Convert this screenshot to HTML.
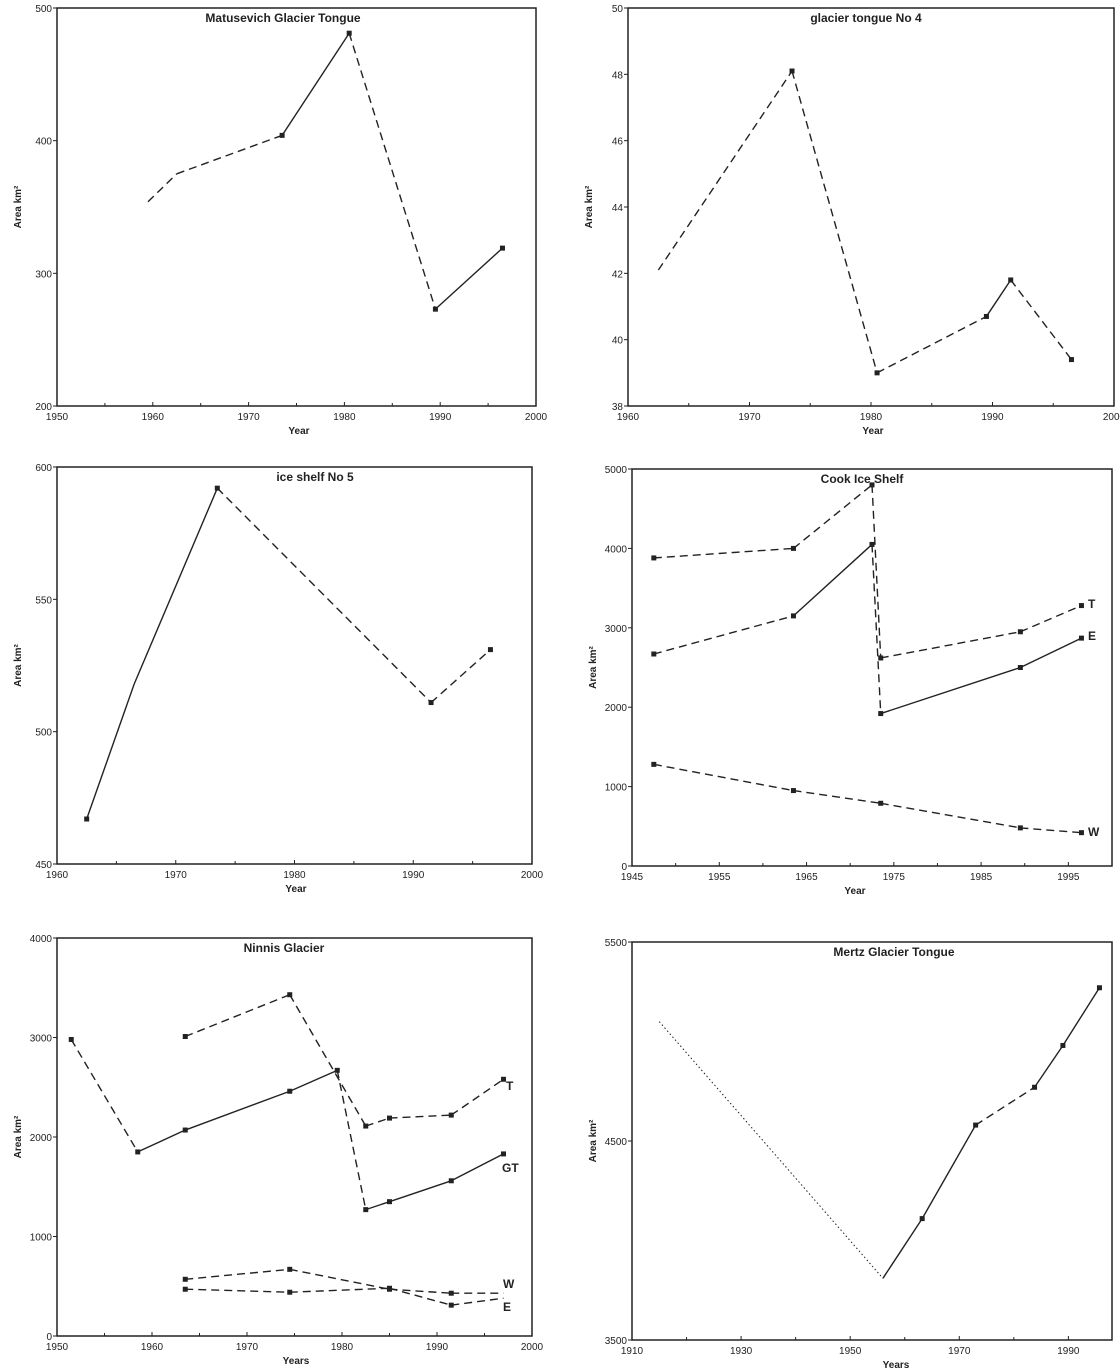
<!DOCTYPE html>
<html><head><meta charset="utf-8"><style>
html,body{margin:0;padding:0;background:#fff;}
svg{display:block;}
text{font-family:"Liberation Sans",sans-serif;fill:#222;}
</style></head><body>
<svg id="fig" width="1120" height="1370" viewBox="0 0 1120 1370" xmlns="http://www.w3.org/2000/svg"></svg>
<script>
// ---- Data arrays ----
const p1Years=[1959.5,1962.5,1973.5,1980.5,1989.5,1996.5];
const p1Area=[354,375,404,481,273,319];
const p1Styles=['d','d','s','d','s'];
const p1Marks=[false,false,true,true,true,true];
const p1XTicks=[1950,1960,1970,1980,1990,2000];
const p1YTicks=[200,300,400,500];

const p2Years=[1962.5,1973.5,1980.5,1989.5,1991.5,1996.5];
const p2Area=[42.1,48.1,39.0,40.7,41.8,39.4];
const p2Styles=['d','d','d','s','d'];
const p2Marks=[false,true,true,true,true,true];
const p2XTicks=[1960,1970,1980,1990,2000];
const p2YTicks=[38,40,42,44,46,48,50];

const p3Years=[1962.5,1966.5,1973.5,1991.5,1996.5];
const p3Area=[467,518,592,511,531];
const p3Styles=['s','s','d','d'];
const p3Marks=[true,false,true,true,true];
const p3XTicks=[1960,1970,1980,1990,2000];
const p3YTicks=[450,500,550,600];

const p4Years=[1947.5,1963.5,1972.5,1973.5,1989.5,1996.5];
const p4T=[3880,4000,4800,2620,2950,3280];
const p4TStyles=['d','d','d','d','d'];
const p4E=[2670,3150,4050,1920,2500,2870];
const p4EStyles=['d','s','d','s','s'];
const p4WYears=[1947.5,1963.5,1973.5,1989.5,1996.5];
const p4W=[1280,950,790,480,420];
const p4WStyles=['d','d','d','d'];
const p4XTicks=[1945,1955,1965,1975,1985,1995];
const p4YTicks=[0,1000,2000,3000,4000,5000];

const p5GTYears=[1951.5,1958.5,1963.5,1974.5,1979.5,1982.5,1985,1991.5,1997];
const p5GT=[2980,1850,2070,2460,2670,1270,1350,1560,1830];
const p5GTStyles=['d','s','s','s','d','s','s','s'];
const p5TYears=[1963.5,1974.5,1982.5,1985,1991.5,1997];
const p5T=[3010,3430,2110,2190,2220,2580];
const p5TStyles=['d','d','d','d','d'];
const p5WEYears=[1963.5,1974.5,1985,1991.5,1997];
const p5W=[570,670,470,430,430];
const p5E=[470,440,480,310,380];
const p5WEMarks=[true,true,true,true,false];
const p5XTicks=[1950,1960,1970,1980,1990,2000];
const p5YTicks=[0,1000,2000,3000,4000];

const p6Years=[1915,1956,1963.2,1973,1983.8,1989,1995.7];
const p6Area=[5100,3810,4110,4580,4770,4980,5270];
const p6Styles=['o','s','s','d','s','s'];
const p6Marks=[false,false,true,true,true,true,true];
const p6XTicks=[1910,1930,1950,1970,1990];
const p6YTicks=[3500,4500,5500];

// ---- drawing ----
const NS='http://www.w3.org/2000/svg';
const svg=document.getElementById('fig');
function el(tag,attrs,parent){const e=document.createElementNS(NS,tag);for(const k in attrs)e.setAttribute(k,attrs[k]);(parent||svg).appendChild(e);return e;}
function makeAxes(p){
  const g=el('g',{});
  
  
  const xs=v=>p.l+(v-p.x0)/(p.x1-p.x0)*(p.r-p.l);
  const ys=v=>p.b-(v-p.y0)/(p.y1-p.y0)*(p.b-p.t);
  const box=el('rect',{x:p.l,y:p.t,width:p.r-p.l,height:p.b-p.t,fill:'none',stroke:'#222','stroke-width':1.5},g);
  
  
  p.xt.forEach((v,i)=>{
    const x=xs(v);
    el('line',{x1:x,x2:x,y1:p.b,y2:p.b-4,stroke:'#222','stroke-width':1},g);
    const t=el('text',{x:x,y:p.b+14,'font-size':10,'text-anchor':'middle'},g);t.textContent=v;
    
    
    if(i<p.xt.length-1){const m=xs((v+p.xt[i+1])/2);el('line',{x1:m,x2:m,y1:p.b,y2:p.b-3,stroke:'#222'},g);}
  });
  p.yt.forEach(v=>{
    const y=ys(v);
    el('line',{x1:p.l-4,x2:p.l,y1:y,y2:y,stroke:'#222'},g);
    const t=el('text',{x:p.l-5,y:y+4,'font-size':10,'text-anchor':'end'},g);t.textContent=v;
    
    
  });
  const ti=el('text',{x:p.tx,y:p.t+14,'font-size':12,'font-weight':'bold','text-anchor':'middle'},g);ti.textContent=p.title;
  
  
  const xl=el('text',{x:p.xlx,y:p.b+28,'font-size':10,'font-weight':'bold','text-anchor':'middle'},g);xl.textContent=p.xlabel;
  
  
  const cy=(p.t+p.b)/2;
  const yl=el('text',{x:p.l-36,y:cy,'font-size':10,'font-weight':'bold','text-anchor':'middle',transform:`rotate(-90 ${p.l-36} ${cy})`},g);
  yl.textContent='Area km²';
  
  
  return {g,xs,ys};
}
function series(ax,name,years,vals,styles,marks){
  const g=el('g',{},ax.g);
  
  
  for(let i=0;i<years.length-1;i++){
    const s=styles[i];
    const a={x1:ax.xs(years[i]),y1:ax.ys(vals[i]),x2:ax.xs(years[i+1]),y2:ax.ys(vals[i+1]),stroke:'#222','stroke-width':1.4};
    if(s==='d')a['stroke-dasharray']='8 5';
    if(s==='o'){a['stroke-dasharray']='1.5 2.5';a['stroke-width']=1;}
    const ln=el('line',a,g);
    
    
  }
  years.forEach((y,i)=>{
    if(marks&&!marks[i])return;
    const r=el('rect',{x:ax.xs(y)-2.5,y:ax.ys(vals[i])-2.5,width:5,height:5,fill:'#222'},g);
    
    
  });
}
function lab(ax,txt,x,y){const t=el('text',{x:x,y:y,'font-size':12,'font-weight':'bold'},ax.g);t.textContent=txt;
  
  }

let a=makeAxes({name:'matusevich-panel',l:57,r:536,t:8,b:406,x0:1950,x1:2000,y0:200,y1:500,xt:p1XTicks,yt:p1YTicks,title:'Matusevich  Glacier  Tongue',tx:283,xlabel:'Year',xlx:299});
series(a,'matusevich-line',p1Years,p1Area,p1Styles,p1Marks);

a=makeAxes({name:'tongue-no4-panel',l:628,r:1114,t:8,b:406,x0:1960,x1:2000,y0:38,y1:50,xt:p2XTicks,yt:p2YTicks,title:'glacier tongue No 4',tx:866,xlabel:'Year',xlx:873});
series(a,'tongue-no4-line',p2Years,p2Area,p2Styles,p2Marks);

a=makeAxes({name:'ice-shelf-no5-panel',l:57,r:532,t:467,b:864,x0:1960,x1:2000,y0:450,y1:600,xt:p3XTicks,yt:p3YTicks,title:'ice shelf No 5',tx:315,xlabel:'Year',xlx:296});
series(a,'ice-shelf-no5-line',p3Years,p3Area,p3Styles,p3Marks);

a=makeAxes({name:'cook-panel',l:632,r:1112,t:469,b:866,x0:1945,x1:2000,y0:0,y1:5000,xt:p4XTicks,yt:p4YTicks,title:'Cook Ice Shelf',tx:862,xlabel:'Year',xlx:855});
series(a,'cook-T-line',p4Years,p4T,p4TStyles);
series(a,'cook-E-line',p4Years,p4E,p4EStyles);
series(a,'cook-W-line',p4WYears,p4W,p4WStyles);
lab(a,'T',1088,608);lab(a,'E',1088,640);lab(a,'W',1088,836);

a=makeAxes({name:'ninnis-panel',l:57,r:532,t:938,b:1336,x0:1950,x1:2000,y0:0,y1:4000,xt:p5XTicks,yt:p5YTicks,title:'Ninnis  Glacier',tx:284,xlabel:'Years',xlx:296});
series(a,'ninnis-GT-line',p5GTYears,p5GT,p5GTStyles);
series(a,'ninnis-T-line',p5TYears,p5T,p5TStyles);
series(a,'ninnis-W-line',p5WEYears,p5W,['d','d','d','d'],p5WEMarks);
series(a,'ninnis-E-line',p5WEYears,p5E,['d','d','d','d'],p5WEMarks);
lab(a,'T',506,1090);lab(a,'GT',502,1172);lab(a,'W',503,1288);lab(a,'E',503,1311);

a=makeAxes({name:'mertz-panel',l:632,r:1112,t:942,b:1340,x0:1910,x1:1998,y0:3500,y1:5500,xt:p6XTicks,yt:p6YTicks,title:'Mertz  Glacier  Tongue',tx:894,xlabel:'Years',xlx:896});
series(a,'mertz-line',p6Years,p6Area,p6Styles,p6Marks);
</script>
</body></html>
